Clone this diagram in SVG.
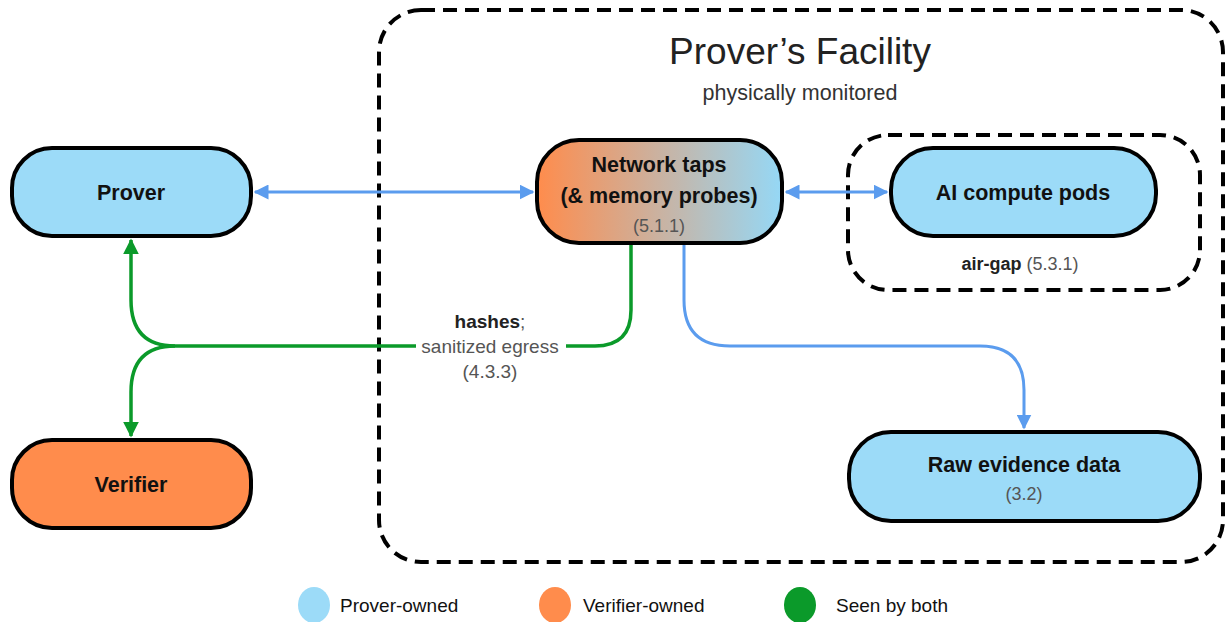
<svg xmlns="http://www.w3.org/2000/svg" width="1227" height="622" viewBox="0 0 1227 622">
<style>
.node{stroke:#000;stroke-width:4}
.blue{fill:#9cdbf8}
.orange{fill:#ff8c4c}
.lbl{font-family:"Liberation Sans",Arial,sans-serif;font-weight:bold;font-size:21.5px;fill:#111;text-anchor:middle}
.sub{font-family:"Liberation Sans",Arial,sans-serif;font-size:18px;fill:#555;text-anchor:middle}
.dash{fill:none;stroke:#000;stroke-width:4;stroke-dasharray:14 8}
.cb{fill:none;stroke:#5b9cee;stroke-width:3}
.cg{fill:none;stroke:#0b9a2a;stroke-width:3.5}
.leg{font-family:"Liberation Sans",Arial,sans-serif;font-size:19px;fill:#111}
.eg{font-family:"Liberation Sans",Arial,sans-serif;font-size:19px;fill:#555;text-anchor:middle}
</style>
<defs>
<linearGradient id="grad" x1="0" y1="0" x2="1" y2="0">
<stop offset="0" stop-color="#ff8c4c"/>
<stop offset="1" stop-color="#95d8f6"/>
</linearGradient>
<marker id="ab" viewBox="0 0 10 10" refX="9" refY="5" markerWidth="5" markerHeight="5" orient="auto-start-reverse" markerUnits="strokeWidth"><path d="M0,0 L10,5 L0,10 z" fill="#5b9cee"/></marker>
<marker id="ag" viewBox="0 0 10 10" refX="9" refY="5" markerWidth="4.5" markerHeight="4.5" orient="auto-start-reverse" markerUnits="strokeWidth"><path d="M0,0 L10,5 L0,10 z" fill="#0b9a2a"/></marker>
</defs>
<rect width="1227" height="622" fill="#ffffff"/>
<g id="facility">
<rect x="379" y="10" width="844" height="552" rx="42" fill="#f3f3ee" class="dash"/>
<text x="800" y="64" font-family="Liberation Sans,Arial,sans-serif" font-size="37" fill="#222" text-anchor="middle">Prover’s Facility</text>
<text x="800" y="100" font-family="Liberation Sans,Arial,sans-serif" font-size="21.5" fill="#333" text-anchor="middle">physically monitored</text>
</g>
<g id="airgap">
<rect x="848" y="135" width="352" height="155" rx="40" fill="#ffffff" class="dash"/>
<text x="1020" y="270" font-family="Liberation Sans,Arial,sans-serif" font-size="18" text-anchor="middle"><tspan font-weight="bold" fill="#222">air-gap</tspan><tspan fill="#555"> (5.3.1)</tspan></text>
</g>
<g id="connectors">
<path class="cb" d="M255,192 H533" marker-start="url(#ab)" marker-end="url(#ab)"/>
<path class="cb" d="M786,192 H887" marker-start="url(#ab)" marker-end="url(#ab)"/>
<path class="cb" d="M684,245 V300 Q684,346 730,346 H980 Q1024,346 1024,390 V428" marker-end="url(#ab)"/>
<path class="cg" d="M631,245 V310 Q631,346 595,346 H566"/>
<path class="cg" d="M416,346 H175 Q131,346 131,300 V240" marker-end="url(#ag)"/>
<path class="cg" d="M175,346 Q131,346 131,392 V436" marker-end="url(#ag)"/>
<text x="490" y="328" font-family="Liberation Sans,Arial,sans-serif" font-size="19" text-anchor="middle"><tspan font-weight="bold" fill="#222">hashes</tspan><tspan fill="#555">;</tspan></text>
<text x="490" y="353" class="eg">sanitized egress</text>
<text x="490" y="378" class="eg">(4.3.3)</text>
</g>
<g id="prover">
<rect x="12" y="148" width="239" height="88" rx="40" class="node blue"/>
<text x="131" y="200" class="lbl">Prover</text>
</g>
<g id="verifier">
<rect x="12" y="440" width="239" height="88" rx="40" class="node orange"/>
<text x="131" y="492" class="lbl">Verifier</text>
</g>
<g id="taps">
<rect x="537" y="140" width="245" height="103" rx="42" class="node" fill="url(#grad)"/>
<text x="659" y="172" class="lbl">Network taps</text>
<text x="659" y="203" class="lbl">(&amp; memory probes)</text>
<text x="659" y="232" class="sub">(5.1.1)</text>
</g>
<g id="pods">
<rect x="891" y="148" width="265" height="88" rx="42" class="node blue"/>
<text x="1023" y="200" class="lbl">AI compute pods</text>
</g>
<g id="raw">
<rect x="849" y="432" width="351" height="89" rx="42" class="node blue"/>
<text x="1024" y="472" class="lbl">Raw evidence data</text>
<text x="1024" y="500" class="sub">(3.2)</text>
</g>
<g id="legend">
<ellipse cx="314" cy="605" rx="16" ry="18" fill="#9cdbf8"/>
<text x="340" y="612" class="leg">Prover-owned</text>
<ellipse cx="555" cy="605" rx="16" ry="18" fill="#ff8c4c"/>
<text x="583" y="612" class="leg">Verifier-owned</text>
<ellipse cx="800" cy="605" rx="16" ry="18" fill="#0b9a2a"/>
<text x="836" y="612" class="leg">Seen by both</text>
</g>
</svg>
